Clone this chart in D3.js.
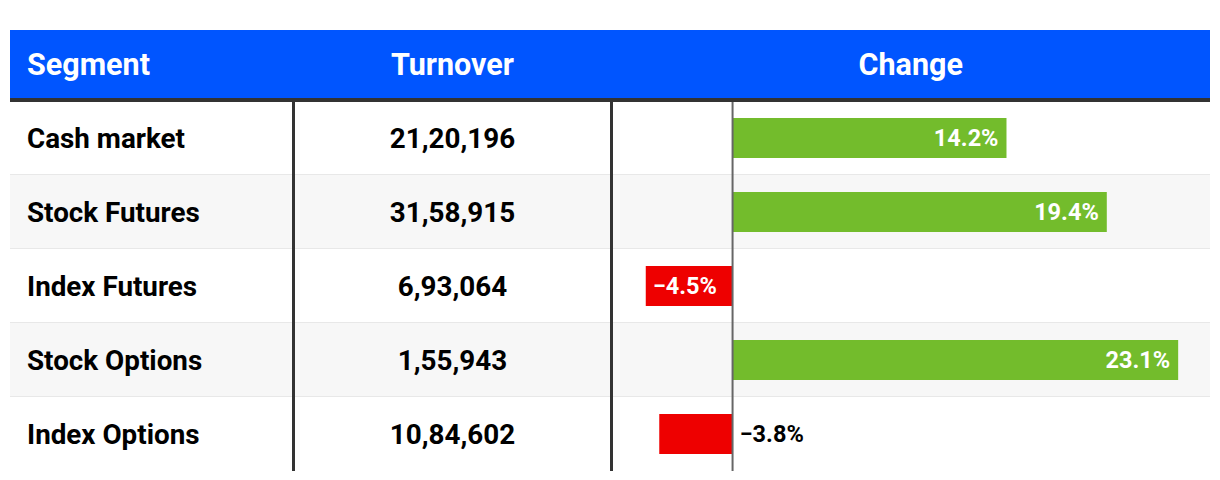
<!DOCTYPE html>
<html>
<head>
<meta charset="utf-8">
<script src="https://cdn.jsdelivr.net/npm/d3@7"></script>
<style>
  body { margin: 0; background: #fff; }
  svg { display: block; font-family: Roboto, "Noto Sans", sans-serif; }
  .hdr { fill: #fff; font-weight: 700; font-size: 30.5px; }
  .cell { fill: #000; font-weight: 700; font-size: 27.8px; }
  .bar-label { font-weight: 700; font-size: 23.5px; }
</style>
</head>
<body>
<div id="chart"></div>
<script>
// Data
const segments = ["Cash market", "Stock Futures", "Index Futures", "Stock Options", "Index Options"];
const turnover = [2120196, 3158915, 693064, 155943, 1084602];
const change = [14.2, 19.4, -4.5, 23.1, -3.8];
const headers = ["Segment", "Turnover", "Change"];

const W = 1220, H = 480;
const cfg = {
    left: 10, right: 1210, top: 30, headH: 69,
    rowH: 74, col1: 293.5, col2: 611.5,
    blue: "#0055ff", green: "#73bc2c", red: "#ee0000",
    stripe: "#f7f7f7", sep: "#e8e8e8", rule: "#333"
};

const svg = d3.select("#chart").append("svg")
    .attr("width", W).attr("height", H)
    .attr("viewBox", "0 0 " + W + " " + H);

const bodyTop = cfg.top + cfg.headH + 2;

// row scale
const yScale = d3.scaleBand()
    .domain(d3.range(segments.length))
    .range([bodyTop, bodyTop + cfg.rowH * segments.length])
    .paddingInner(0);

// change scale
const xScale = d3.scaleLinear()
    .domain([-6.25, 24.75])
    .range([cfg.col2 + 0.5, cfg.right]);

const fmtIN = d3.formatLocale({decimal: ".", thousands: ",", grouping: [3, 2], currency: ["", ""]}).format(",d");
const fmtPct = d3.format(".1f");

// header
svg.append("rect")
    .attr("x", cfg.left).attr("y", cfg.top)
    .attr("width", cfg.right - cfg.left).attr("height", cfg.headH)
    .attr("fill", cfg.blue);

const headX = [cfg.left + 17, (cfg.col1 + cfg.col2) / 2, (cfg.col2 + cfg.right) / 2];
svg.selectAll(".hdr")
    .data(headers).enter()
    .append("text")
    .attr("class", "hdr")
    .attr("x", (d, i) => headX[i])
    .attr("y", cfg.top + cfg.headH / 2 + 10)
    .attr("text-anchor", (d, i) => i === 0 ? "start" : "middle")
    .text(d => d);

// rows
const rows = svg.selectAll(".row")
    .data(segments).enter()
    .append("g")
    .attr("class", "row")
    .attr("transform", (d, i) => "translate(0," + yScale(i) + ")");

rows.append("rect")
    .attr("x", cfg.left).attr("width", cfg.right - cfg.left)
    .attr("height", yScale.bandwidth())
    .attr("fill", (d, i) => i % 2 ? cfg.stripe : "#fff");

rows.filter((d, i) => i < segments.length - 1)
    .append("rect")
    .attr("x", cfg.left).attr("width", cfg.right - cfg.left)
    .attr("y", yScale.bandwidth() - 1).attr("height", 2)
    .attr("fill", cfg.sep);

rows.append("text")
    .attr("class", "cell")
    .attr("x", cfg.left + 17)
    .attr("y", yScale.bandwidth() / 2 + 10)
    .text(d => d);

rows.append("text")
    .attr("class", "cell")
    .attr("x", (cfg.col1 + cfg.col2) / 2)
    .attr("y", yScale.bandwidth() / 2 + 10)
    .attr("text-anchor", "middle")
    .text((d, i) => fmtIN(turnover[i]));

// bars
const barH = 40;
rows.append("rect")
    .attr("x", (d, i) => xScale(Math.min(0, change[i])))
    .attr("y", (yScale.bandwidth() - barH) / 2)
    .attr("width", (d, i) => Math.abs(xScale(change[i]) - xScale(0)))
    .attr("height", barH)
    .attr("fill", (d, i) => change[i] < 0 ? cfg.red : cfg.green);

rows.append("text")
    .attr("class", "bar-label")
    .each(function(d, i) {
        const v = change[i];
        const w = Math.abs(xScale(v) - xScale(0));
        const label = fmtPct(v) + "%";
        const el = d3.select(this)
            .attr("y", yScale.bandwidth() / 2 + 8)
            .text(label);
        const tw = this.getComputedTextLength();
        if (tw + 14 <= w) {
            el.attr("fill", "#fff");
            if (v >= 0) el.attr("x", xScale(v) - 8).attr("text-anchor", "end");
            else el.attr("x", xScale(v) + 7).attr("text-anchor", "start");
        } else {
            el.attr("fill", "#000").attr("x", xScale(0) + 7).attr("text-anchor", "start");
        }
    });

// zero line
svg.append("line")
    .attr("x1", xScale(0)).attr("x2", xScale(0))
    .attr("y1", bodyTop).attr("y2", yScale.range()[1])
    .attr("stroke", "#666").attr("stroke-width", 2);

// column rules
svg.selectAll(".colrule")
    .data([cfg.col1, cfg.col2]).enter()
    .append("line")
    .attr("class", "colrule")
    .attr("x1", d => d).attr("x2", d => d)
    .attr("y1", bodyTop).attr("y2", yScale.range()[1])
    .attr("stroke", cfg.rule).attr("stroke-width", 3);

// header bottom rule
svg.append("rect")
    .attr("x", cfg.left).attr("y", cfg.top + cfg.headH - 1)
    .attr("width", cfg.right - cfg.left).attr("height", 4)
    .attr("fill", cfg.rule);
</script>
</body>
</html>
